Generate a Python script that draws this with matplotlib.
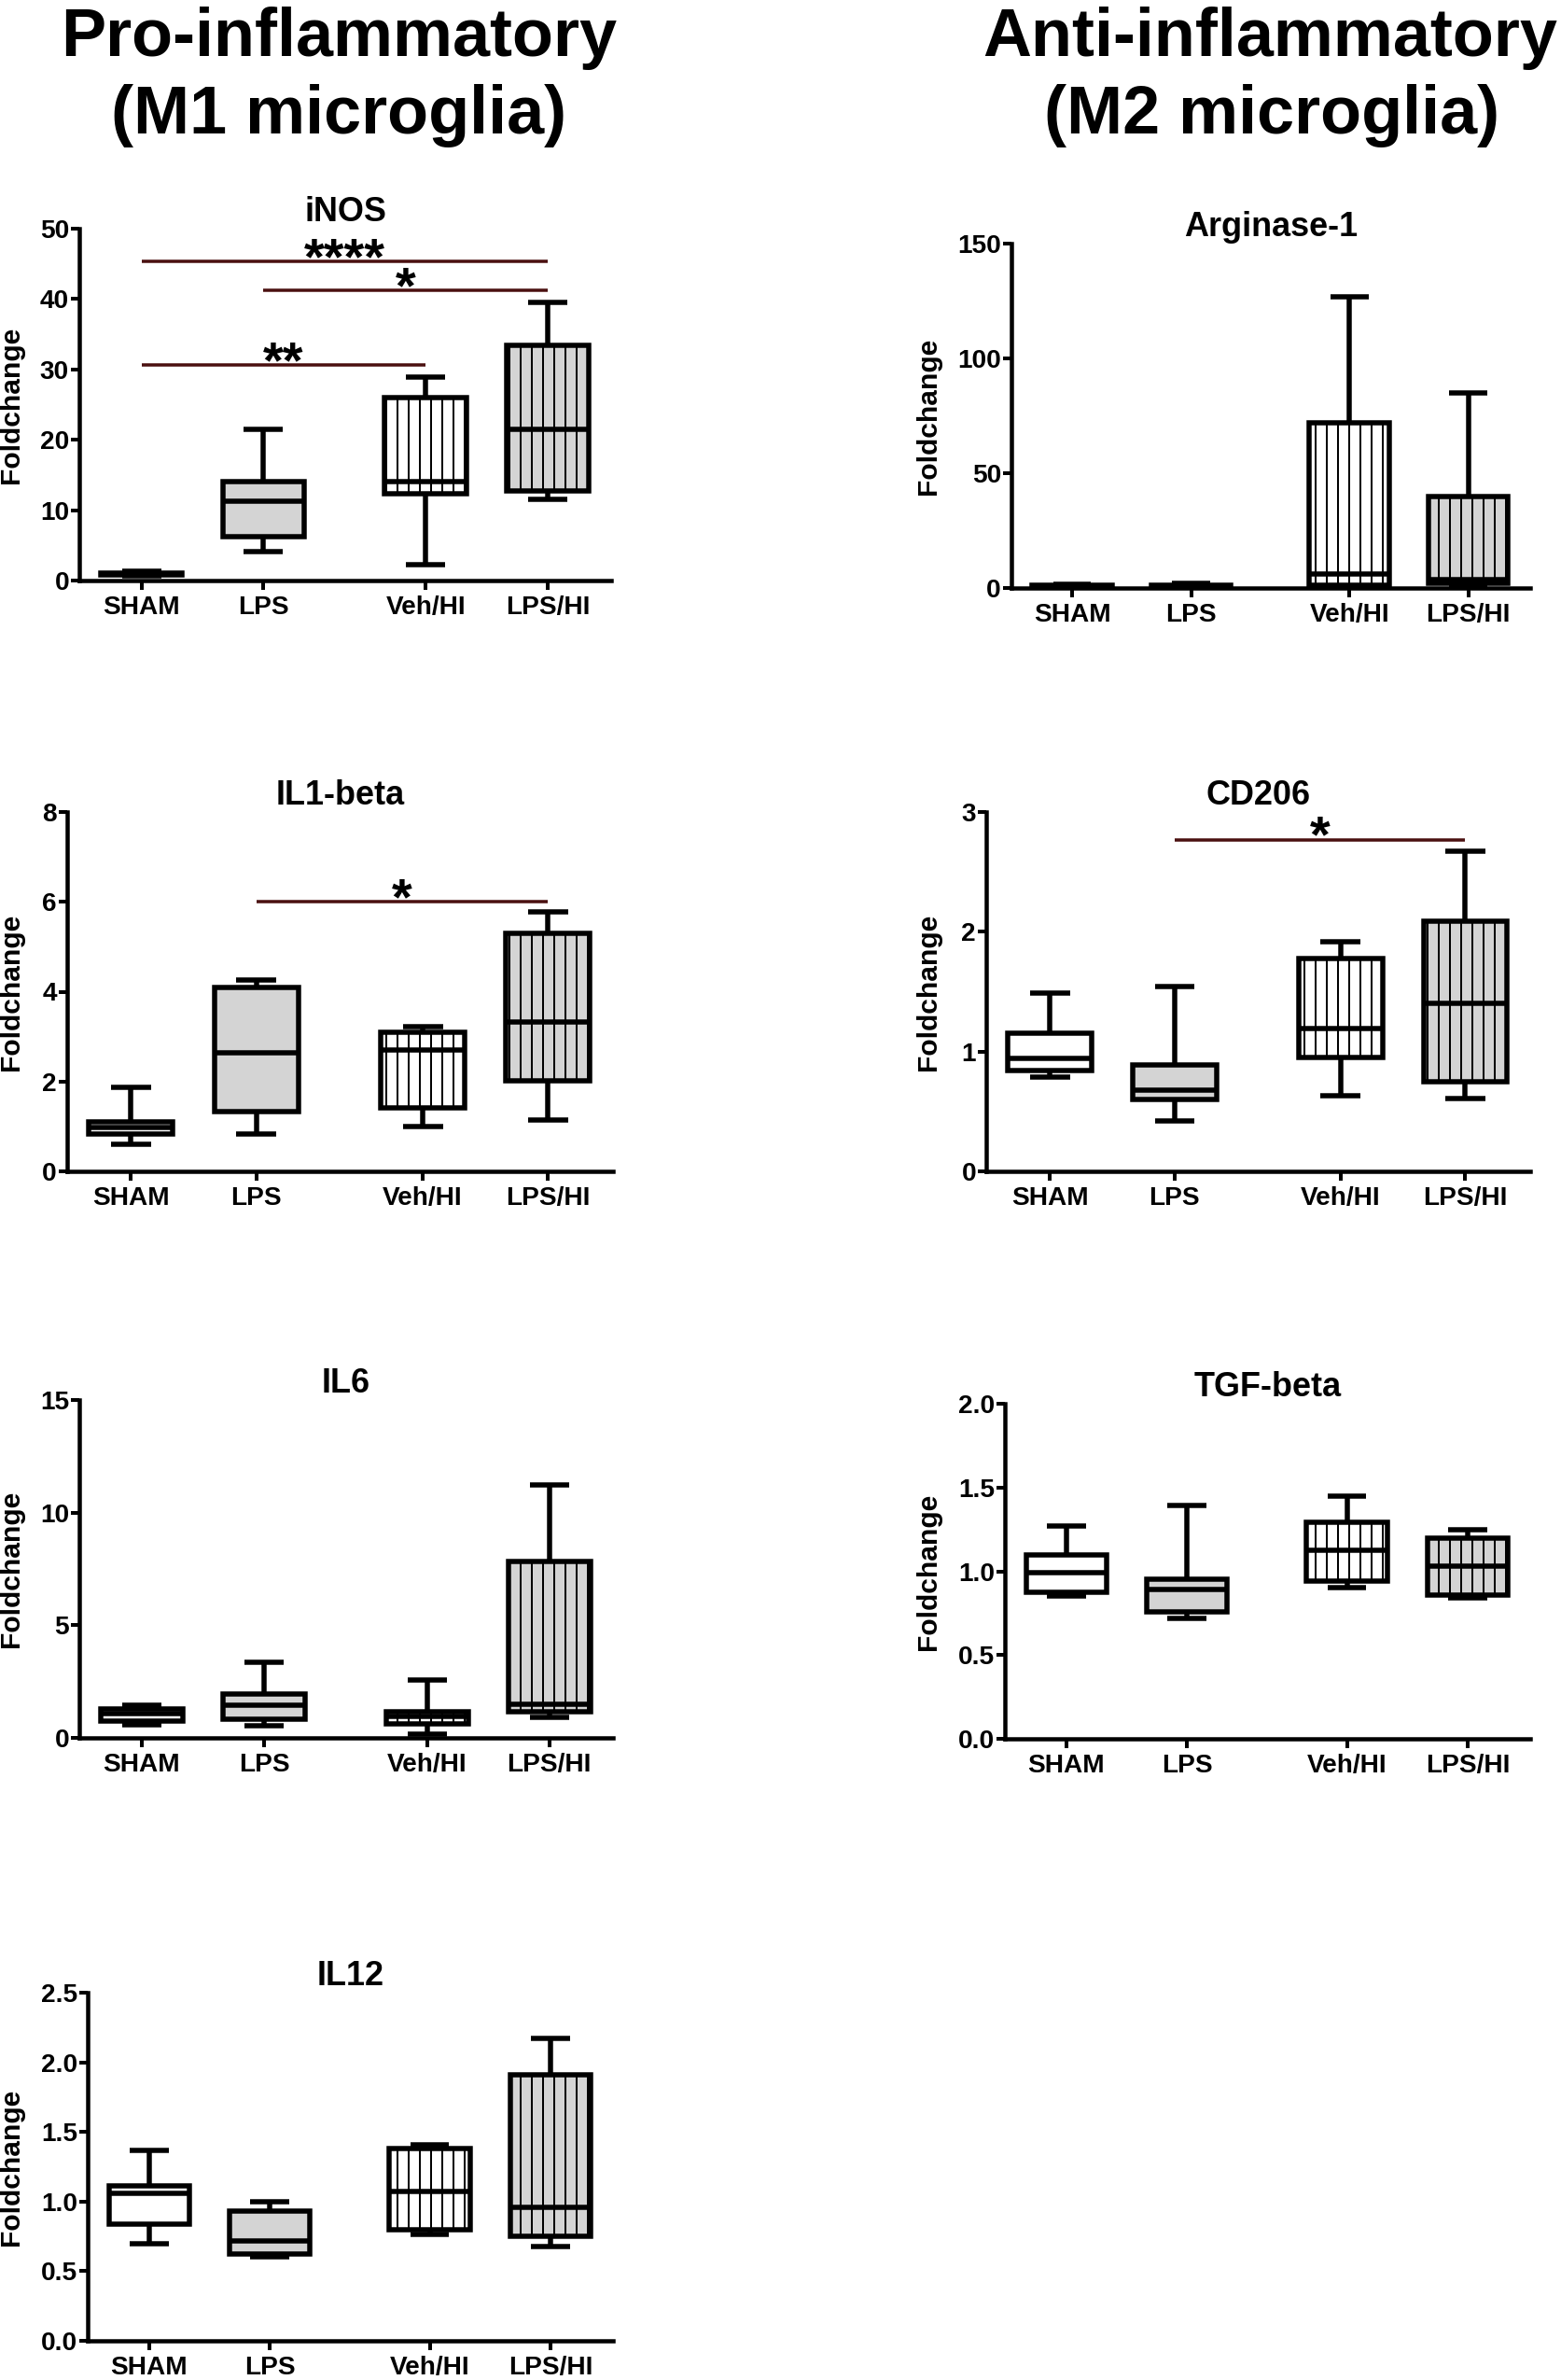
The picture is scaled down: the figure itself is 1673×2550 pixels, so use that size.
# box plots of microglia markers, M1 vs M2

import matplotlib
matplotlib.use('Agg')
import matplotlib.pyplot as plt

plt.rcParams['font.family'] = ['Liberation Sans', 'DejaVu Sans']
plt.rcParams['font.weight'] = 'bold'
plt.rcParams['hatch.linewidth'] = 2.0

W, H, DPI = 1673, 2550, 72

groups = ['SHAM', 'LPS', 'Veh/HI', 'LPS/HI']
xpos = [0, 1, 2.33, 3.33]

# five-number summaries per group: [min, q1, median, q3, max]
inos = [[0.6, 0.75, 0.95, 1.1, 1.3], [4.1, 6.2, 11.3, 14.0, 21.5],
        [2.3, 12.4, 14.0, 26.0, 28.9], [11.5, 12.7, 21.5, 33.4, 39.5]]
arginase = [[0.5, 0.7, 1.0, 1.3, 1.6], [0.4, 0.6, 0.9, 1.3, 2.0],
            [0.7, 1.4, 6.0, 72.1, 127.0], [1.4, 2.0, 3.8, 39.7, 85.1]]
il1b = [[0.61, 0.83, 0.97, 1.11, 1.87], [0.83, 1.34, 2.63, 4.10, 4.27],
        [1.00, 1.41, 2.70, 3.10, 3.23], [1.14, 2.01, 3.32, 5.30, 5.78]]
cd206 = [[0.79, 0.84, 0.94, 1.15, 1.49], [0.42, 0.60, 0.68, 0.89, 1.54],
         [0.63, 0.95, 1.19, 1.78, 1.92], [0.61, 0.75, 1.40, 2.09, 2.67]]
il6 = [[0.57, 0.74, 1.07, 1.27, 1.46], [0.53, 0.84, 1.47, 1.96, 3.36],
       [0.17, 0.64, 0.97, 1.14, 2.56], [0.90, 1.14, 1.50, 7.82, 11.25]]
tgfb = [[0.85, 0.875, 0.99, 1.095, 1.27], [0.72, 0.76, 0.89, 0.955, 1.39],
        [0.90, 0.94, 1.125, 1.295, 1.45], [0.84, 0.857, 1.03, 1.20, 1.25]]
il12 = [[0.70, 0.84, 1.06, 1.11, 1.37], [0.60, 0.62, 0.72, 0.93, 1.00],
        [0.765, 0.80, 1.075, 1.38, 1.41], [0.675, 0.75, 0.96, 1.91, 2.17]]

# significance bars: (from group, to group, height, stars)
inos_sig = [(0, 3, 45.3, '****'), (1, 3, 41.2, '*'), (0, 2, 30.6, '**')]
il1b_sig = [(1, 3, 6.0, '*')]
cd206_sig = [(1, 3, 2.77, '*')]

faces = ['white', '#d4d4d4', 'white', '#d4d4d4']
hatches = ['', '', '|', '|']

fig = plt.figure(figsize=(W / DPI, H / DPI), dpi=DPI)


def panel(x0, x1, ytop, ybot, label_right, title, data, yticks, ylabels, sigs=()):
    ax = fig.add_axes([x0 / W, 1 - ybot / H, (x1 - x0) / W, (ybot - ytop) / H])
    stats = [dict(whislo=d[0], q1=d[1], med=d[2], q3=d[3], whishi=d[4], fliers=[])
             for d in data]
    lw = 5.5
    res = ax.bxp(stats, positions=xpos, widths=0.67, capwidths=0.32,
                 patch_artist=True, showfliers=False, manage_ticks=False,
                 boxprops=dict(linewidth=lw, edgecolor='black'),
                 whiskerprops=dict(linewidth=lw, color='black', solid_capstyle='butt'),
                 capprops=dict(linewidth=lw, color='black', solid_capstyle='butt'),
                 medianprops=dict(linewidth=lw, color='black', solid_capstyle='butt'))
    for box, fc, h in zip(res['boxes'], faces, hatches):
        box.set_facecolor(fc)
        box.set_hatch(h)
        box.set_joinstyle('miter')

    # significance bars with stars sitting on top
    for i, j, y, stars in sigs:
        ax.plot([xpos[i], xpos[j]], [y, y], color='#4a1010', linewidth=3.5,
                solid_capstyle='butt', clip_on=False)
        ax.annotate(stars, xy=((xpos[i] + xpos[j]) / 2, y), xytext=(0, -13),
                    textcoords='offset points', ha='center', va='baseline',
                    fontsize=56, fontweight='bold')

    ax.set_xlim(-0.51, 3.85)
    ax.set_ylim(yticks[0], yticks[-1])
    ax.set_xticks(xpos)
    ax.set_xticklabels(groups, fontsize=28, fontweight='bold')
    ax.set_yticks(yticks)
    ax.set_yticklabels(ylabels, fontsize=28, fontweight='bold')
    for s in ['top', 'right']:
        ax.spines[s].set_visible(False)
    for s in ['left', 'bottom']:
        ax.spines[s].set_linewidth(4.5)
    ax.tick_params(axis='x', length=10, width=4, pad=6)
    ax.tick_params(axis='y', length=9, width=4, pad=2)
    ax.set_title(title, fontsize=36, fontweight='bold', pad=5)
    ax.set_ylabel('Foldchange', fontsize=30, fontweight='bold')
    ax.yaxis.set_label_coords((label_right - x0) / (x1 - x0), 0.5)
    return ax


panel(85, 655, 245, 622, 26, 'iNOS', inos,
      [0, 10, 20, 30, 40, 50], ['0', '10', '20', '30', '40', '50'], inos_sig)
panel(1084, 1640, 261, 630, 1009, 'Arginase-1', arginase,
      [0, 50, 100, 150], ['0', '50', '100', '150'])
panel(72, 657, 870, 1255, 26, 'IL1-beta', il1b,
      [0, 2, 4, 6, 8], ['0', '2', '4', '6', '8'], il1b_sig)
panel(1057, 1640, 870, 1255, 1009, 'CD206', cd206,
      [0, 1, 2, 3], ['0', '1', '2', '3'], cd206_sig)
panel(85, 657, 1500, 1862, 26, 'IL6', il6,
      [0, 5, 10, 15], ['0', '5', '10', '15'])
panel(1077, 1640, 1504, 1863, 1009, 'TGF-beta', tgfb,
      [0, 0.5, 1.0, 1.5, 2.0], ['0.0', '0.5', '1.0', '1.5', '2.0'])
panel(94, 657, 2135, 2508, 26, 'IL12', il12,
      [0, 0.5, 1.0, 1.5, 2.0, 2.5], ['0.0', '0.5', '1.0', '1.5', '2.0', '2.5'])

# column headers
fig.text(363 / W, 1 - 60 / H, 'Pro-inflammatory', ha='center', va='baseline',
         fontsize=72, fontweight='bold')
fig.text(363 / W, 1 - 143 / H, '(M1 microglia)', ha='center', va='baseline',
         fontsize=72, fontweight='bold')
fig.text(1361 / W, 1 - 60 / H, 'Anti-inflammatory', ha='center', va='baseline',
         fontsize=72, fontweight='bold')
fig.text(1363 / W, 1 - 143 / H, '(M2 microglia)', ha='center', va='baseline',
         fontsize=72, fontweight='bold')

fig.savefig('out.png', dpi=DPI, facecolor='white')
